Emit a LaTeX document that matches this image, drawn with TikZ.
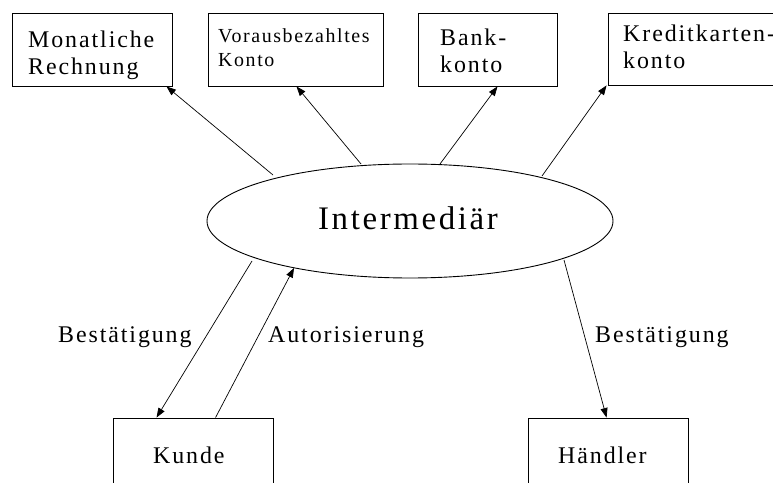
\documentclass[tikz,border=0pt]{standalone}
\usepackage{fontspec}
\setmainfont{Liberation Serif}[LetterSpace=8]
\usetikzlibrary{arrows.meta,shapes.geometric}
\tikzset{
  boxnode/.style={draw=black, line width=0.9bp, rectangle, inner sep=0pt},
  txt/.style={inner sep=0pt, anchor=base west, align=left},
  lbl/.style={inner sep=0pt, anchor=base west, font=\fontsize{24}{28}\selectfont},
  conn/.style={draw=black, line width=0.7bp, -{Triangle[length=9.5bp,width=7bp]}},
  big/.style={font=\fontsize{24}{28}\selectfont},
  small/.style={font=\fontsize{20}{25}\selectfont}
}
\begin{document}
\begin{tikzpicture}[x=1bp,y=-1bp]
\useasboundingbox (0,0) rectangle (773,483);
\fill[white] (0,0) rectangle (773,483);
\clip (0,0) rectangle (773,483);

% boxes
\node[boxnode, minimum width=160bp, minimum height=73bp] (b1) at (92,49.5) {};
\node[boxnode, minimum width=175bp, minimum height=73bp] (b2) at (295.5,49.5) {};
\node[boxnode, minimum width=139bp, minimum height=73bp] (b3) at (487.5,49.5) {};
\node[boxnode, minimum width=200bp, minimum height=72bp] (b4) at (708,49) {};
\node[boxnode, minimum width=160bp, minimum height=100bp] (kunde) at (193,468) {};
\node[boxnode, minimum width=160bp, minimum height=100bp] (haendler) at (608,468) {};

% box texts (anchor base = baseline of the last line)
\node[txt, big] (t1) at (28,75) {Monatliche\\Rechnung};
\node[txt, small] (t2) at (218,67) {Vorausbezahltes\\Konto};
\node[txt, big] (t3) at (440,73) {Bank-\\konto};
\node[txt, big] (t4) at (623,69) {Kreditkarten-\\konto};
\node[txt, big] (t5) at (153,463) {Kunde};
\node[txt, big] (t6) at (558,463) {Händler};

% ellipse
\node[draw=black, line width=0.9bp, ellipse, minimum width=406bp, minimum height=114bp, inner sep=0pt] (ell) at (410,221) {};
\node[inner sep=0pt, anchor=base, font=\fontsize{33}{38}\selectfont] (inter) at (408,230) {Intermediär};

% connector end points on the ellipse
\coordinate (e1) at (273,175);
\coordinate (e2) at (361,164);
\coordinate (e3) at (440,164);
\coordinate (e4) at (542,176);
\coordinate (e5) at (252,261);
\coordinate (e6) at (294,268);
\coordinate (e7) at (564,260);

% connectors
\draw[conn] (e1) -- ([xshift=-6bp]b1.south east);
\draw[conn] (e2) -- ([xshift=1bp]b2.south);
\draw[conn] (e3) -- ([xshift=10bp]b3.south);
\draw[conn] (e4) -- ([xshift=-1bp]b4.south west);
\draw[conn] (e5) -- ([xshift=44bp]kunde.north west);
\draw[conn] ([xshift=103bp]kunde.north west) -- (e6);
\draw[conn] (e7) -- ([xshift=79bp]haendler.north west);

% labels
\node[lbl] (l1) at (58,342) {Bestätigung};
\node[lbl] (l2) at (268,342) {Autorisierung};
\node[lbl] (l3) at (595,342) {Bestätigung};
\end{tikzpicture}
\end{document}
